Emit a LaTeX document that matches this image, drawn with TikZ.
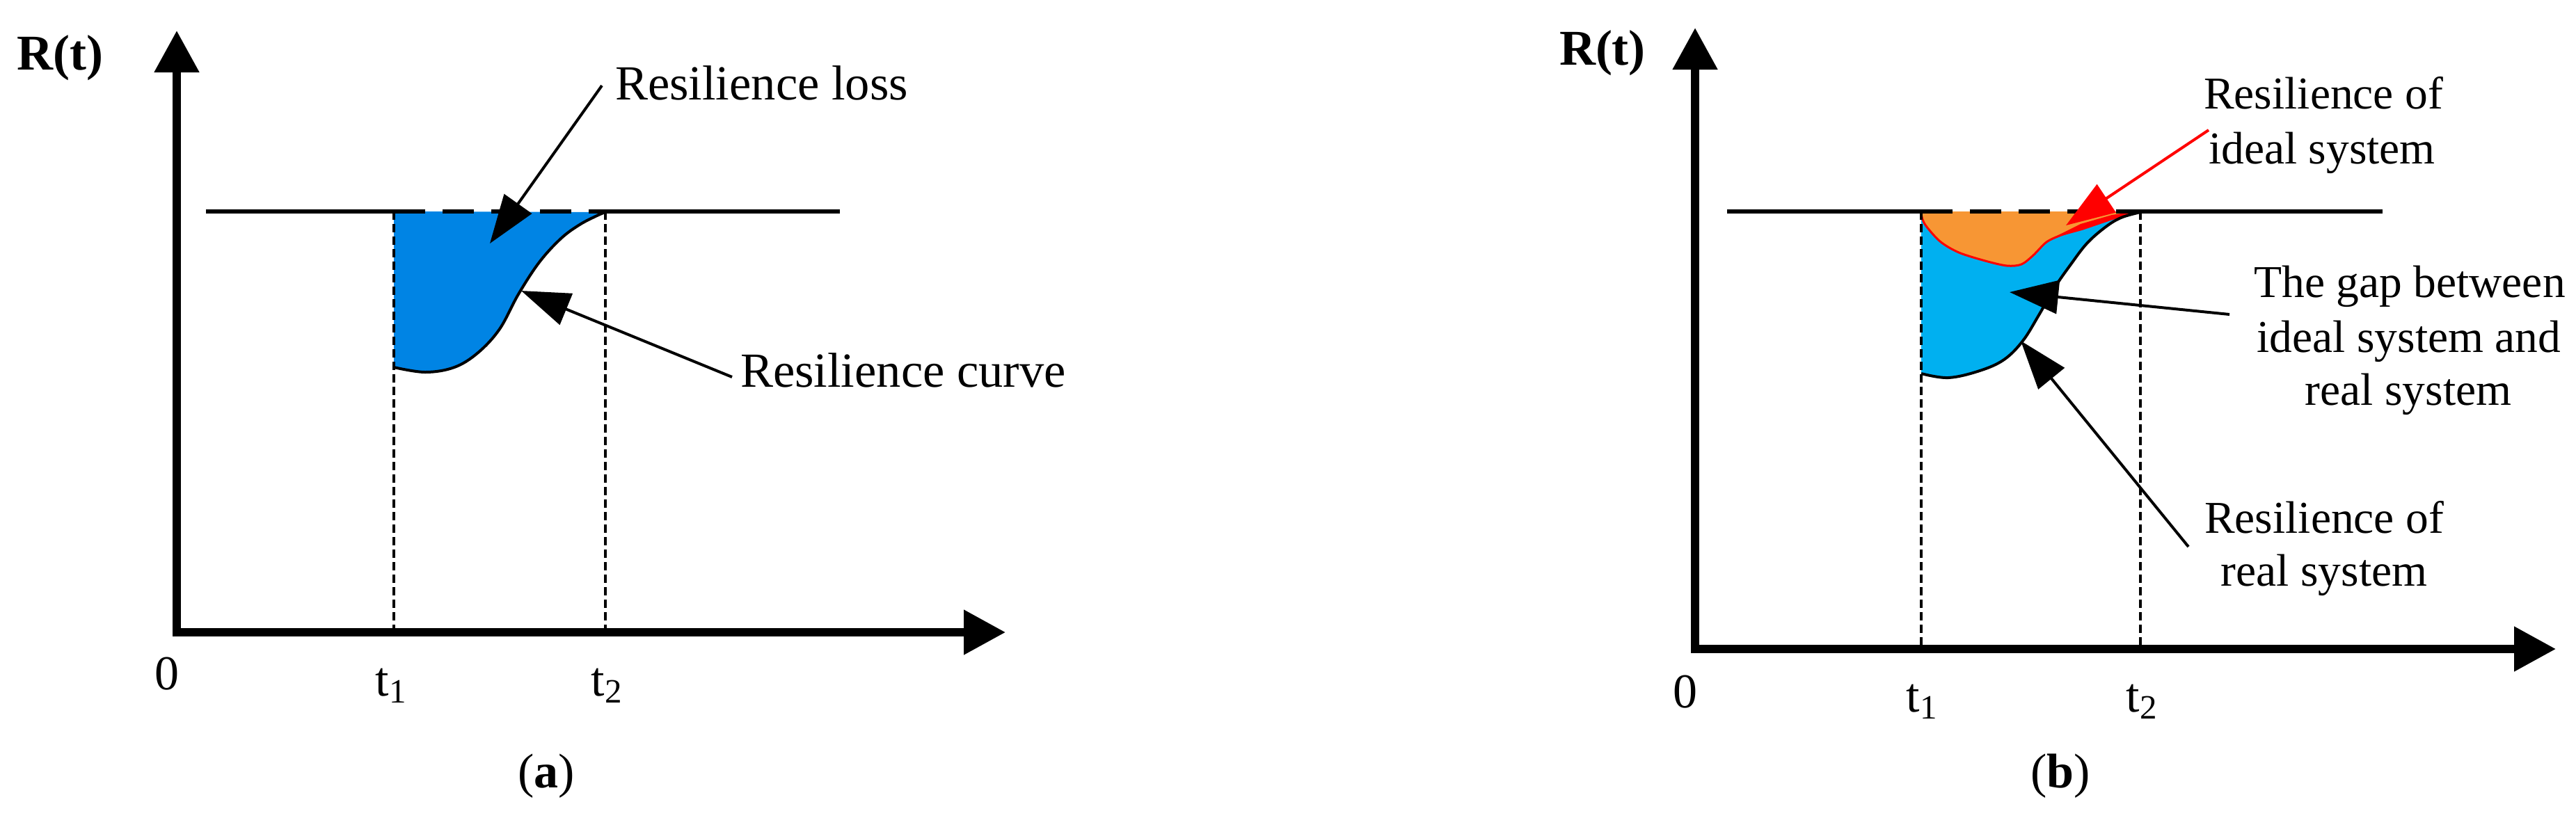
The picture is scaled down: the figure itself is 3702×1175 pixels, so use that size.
\documentclass[tikz,border=0pt]{standalone}
\usepackage{fontspec}
\setmainfont{Liberation Serif}
\usetikzlibrary{arrows.meta}
\definecolor{blueA}{RGB}{0,132,228}
\definecolor{blueB}{RGB}{0,176,240}
\definecolor{orangeB}{RGB}{247,150,52}
\definecolor{redB}{RGB}{255,0,0}
\begin{document}
\begin{tikzpicture}[x=0.2pt,y=-0.2pt,
  axis/.style={line width=2.3pt,line join=miter,{Triangle[length=12pt,width=12.4pt]}-{Triangle[length=12pt,width=12.4pt]}},
  level/.style={line width=1.3pt},
  leveldash/.style={line width=1.3pt,dash pattern=on 9pt off 5pt},
  guide/.style={line width=0.75pt,dash pattern=on 2.4pt off 1.2pt},
  curveline/.style={line width=0.8pt},
  callout/.style={line width=0.8pt,-{Triangle[length=14pt,width=9.6pt]}},
  lblA/.style={inner sep=0pt,font=\fontsize{14.1}{16}\selectfont},
  lblB/.style={inner sep=0pt,font=\fontsize{13.1}{15}\selectfont},
  axlbl/.style={inner sep=0pt,font=\fontsize{14}{16}\selectfont},
  rlbl/.style={inner sep=0pt,font=\fontsize{14.4}{16}\selectfont\bfseries}
]
\useasboundingbox[fill=white] (0,0) rectangle (3702,1175);

% ---------------- Panel (a) ----------------
\coordinate (Oa) at (254,909);
\coordinate (YTa) at (254,44);
\coordinate (XTa) at (1445,909);
\coordinate (La) at (296,304);
\coordinate (Ra) at (1207,304);
\coordinate (T1a) at (566,304);
\coordinate (T2a) at (870,304);
\coordinate (T1ab) at (566,909);
\coordinate (T2ab) at (870,909);

\fill[blueA] (T1a) -- plot[smooth,tension=0.6] coordinates {(566,528) (611,535) (653,528) (687,507) (718,473) (745,423) (775,377) (806,343) (833,323) (858,310) (870,305)} -- cycle;
\draw[curveline] plot[smooth,tension=0.6] coordinates {(566,528) (611,535) (653,528) (687,507) (718,473) (745,423) (775,377) (806,343) (833,323) (858,310) (870,305)};

\draw[level] (La) -- (T1a);
\draw[leveldash] (T1a) -- (T2a);
\draw[level] (T2a) -- (Ra);
\draw[guide] (T1a) -- (T1ab);
\draw[guide] (T2a) -- (T2ab);
\draw[axis] (YTa) -- (Oa) -- (XTa);

\node[rlbl,anchor=base west] (Rta) at (24,100) {R(t)};
\node[lblA,anchor=base west] (lossLbl) at (883,143) {Resilience loss};
\node[lblA,anchor=base west] (curveLbl) at (1063,556) {Resilience curve};
\node[axlbl,anchor=base] (zeroA) at (240,991) {0};
\node[axlbl,anchor=base] (t1A) at (563,1000) {t\textsubscript{1}};
\node[axlbl,anchor=base] (t2A) at (873,1000) {t\textsubscript{2}};
\node[axlbl,anchor=base] (capA) at (785,1132) {(\textbf{a})};

\coordinate (lossS) at (865,123);
\coordinate (lossT) at (704,350);
\coordinate (curveS) at (1052,542);
\coordinate (curveT) at (749,418);
\draw[callout] (lossS) -- (lossT);
\draw[callout] (curveS) -- (curveT);

% ---------------- Panel (b) ----------------
\coordinate (Ob) at (2436,933);
\coordinate (YTb) at (2436,40);
\coordinate (XTb) at (3673,933);
\coordinate (Lb) at (2482,304);
\coordinate (Rb) at (3424,304);
\coordinate (T1b) at (2761,304);
\coordinate (T2b) at (3076,304);
\coordinate (T1bb) at (2761,933);
\coordinate (T2bb) at (3076,933);

\fill[blueB] (T1b) -- plot[smooth,tension=0.6] coordinates {(2761,537) (2800,543) (2845,533) (2880,517) (2907,490) (2930,453) (2953,413) (2976,380) (2999,350) (3025,327) (3048,313) (3076,305)} -- cycle;
\fill[orangeB] plot[smooth,tension=0.5] coordinates {(2760,304) (2766,322) (2788,347) (2815,363) (2853,375) (2884,382) (2905,380) (2922,367) (2941,348) (2962,338) (2991,328) (3025,317) (3050,309) (3076,304)} -- cycle;
\draw[redB,line width=0.6pt] plot[smooth,tension=0.5] coordinates {(2760,304) (2766,322) (2788,347) (2815,363) (2853,375) (2884,382) (2905,380) (2922,367) (2941,348) (2962,338) (2991,328) (3025,317) (3050,309) (3076,304)};
\fill[redB] (2948,343) -- (2990,322) -- (3035,309) -- (3076,303) -- (3036,316) -- (2992,331) -- cycle;
\draw[curveline] plot[smooth,tension=0.6] coordinates {(2761,537) (2800,543) (2845,533) (2880,517) (2907,490) (2930,453) (2953,413) (2976,380) (2999,350) (3025,327) (3048,313) (3076,305)};

\draw[level] (Lb) -- (T1b);
\draw[leveldash] (T1b) -- (T2b);
\draw[level] (T2b) -- (Rb);
\draw[guide] (T1b) -- (T1bb);
\draw[guide] (T2b) -- (T2bb);
\draw[axis] (YTb) -- (Ob) -- (XTb);

\node[rlbl,anchor=base west] (Rtb) at (2240,93) {R(t)};
\node[lblB,anchor=base] (idealL1) at (3339,156) {Resilience of};
\node[lblB,anchor=base] (idealL2) at (3337,235) {ideal system};
\node[lblB,anchor=base] (gapL1) at (3463,427) {The gap between};
\node[lblB,anchor=base] (gapL2) at (3462,506) {ideal system and};
\node[lblB,anchor=base] (gapL3) at (3461,582) {real system};
\node[lblB,anchor=base] (realL1) at (3340,766) {Resilience of};
\node[lblB,anchor=base] (realL2) at (3340,842) {real system};
\node[axlbl,anchor=base] (zeroB) at (2422,1017) {0};
\node[axlbl,anchor=base] (t1B) at (2763,1023) {t\textsubscript{1}};
\node[axlbl,anchor=base] (t2B) at (3079,1023) {t\textsubscript{2}};
\node[axlbl,anchor=base] (capB) at (2961,1132) {(\textbf{b})};

\coordinate (idealS) at (3174,187);
\coordinate (idealT) at (2969,324);
\coordinate (gapS) at (3204,452);
\coordinate (gapT) at (2888,420);
\coordinate (realS) at (3145,786);
\coordinate (realT) at (2904,490);
\draw[callout,redB] (idealS) -- (idealT);
\draw[callout] (gapS) -- (gapT);
\draw[callout] (realS) -- (realT);
\end{tikzpicture}
\end{document}
